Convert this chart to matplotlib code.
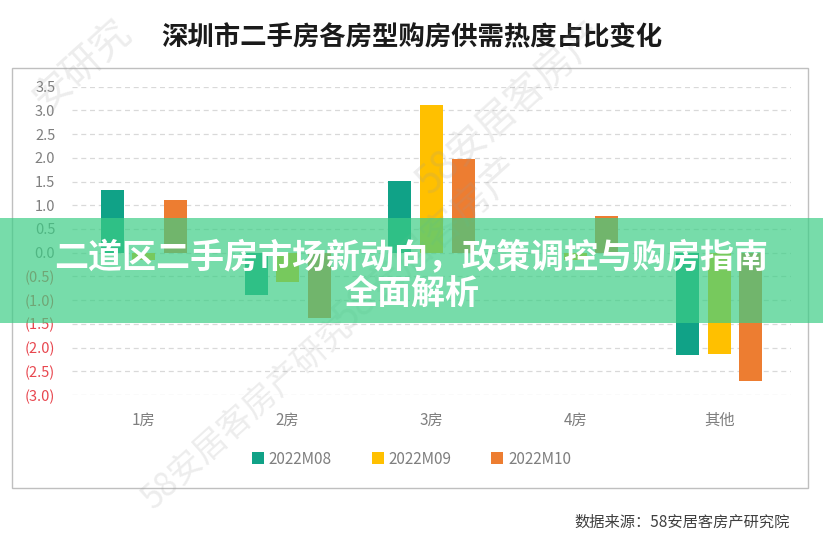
import numpy as np
import matplotlib.pyplot as plt
from matplotlib.patches import Rectangle, Patch
from matplotlib.ticker import FuncFormatter

plt.rcParams['font.family'] = ['Noto Sans CJK SC', 'DejaVu Sans']

# data
categories = ['1房', '2房', '3房', '4房', '其他']
series = ['2022M08', '2022M09', '2022M10']
m08 = [1.32, -0.89, 1.52, 0.0, -2.16]
m09 = [-0.15, -0.61, 3.11, -0.15, -2.14]
m10 = [1.12, -1.38, 1.97, 0.78, -2.70]
colors = ['#10a287', '#ffc000', '#ed7d31']
yticks = np.arange(-3.0, 3.51, 0.5)

fig = plt.figure(figsize=(8.23, 5.44), dpi=100)
fig.patch.set_facecolor('white')

# outer chart frame
fig.patches.append(Rectangle((12 / 823, 1 - 488 / 544), 796 / 823, 420 / 544,
                             transform=fig.transFigure, fill=False,
                             edgecolor='#bfbfbf', linewidth=1.0, zorder=0))

ax = fig.add_axes([72 / 823, 1 - 395 / 544, 719 / 823, 308.3 / 544])
x = np.arange(len(categories))
w = 0.16
off = 0.22
for i, vals in enumerate([m08, m09, m10]):
    ax.bar(x + (i - 1) * off, vals, width=w, color=colors[i], zorder=3)

ax.set_xlim(-0.5, len(categories) - 0.5)
ax.set_ylim(-3.0, 3.5)
ax.set_yticks(yticks)
ax.yaxis.set_major_formatter(FuncFormatter(
    lambda v, p: f'({abs(v):.1f})' if v < -1e-9 else f'{abs(v):.1f}'))
for lab, v in zip(ax.get_yticklabels(), yticks):
    lab.set_color('#e8474f' if v < -1e-9 else '#7f7f7f')
ax.set_xticks(x)
ax.set_xticklabels(categories)
ax.tick_params(axis='y', length=0, labelsize=10.5, pad=12)
ax.tick_params(axis='x', length=0, labelsize=11, labelcolor='#7f7f7f', pad=12)
ax.grid(axis='y', linestyle=(0, (4, 3)), color='#d9d9d9', linewidth=0.9, zorder=0)
for s in ax.spines.values():
    s.set_visible(False)

fig.text(0.5, 1 - 38 / 544, '深圳市二手房各房型购房供需热度占比变化',
         ha='center', va='center', fontsize=19, fontweight='bold', color='#1a1a1a')

handles = [Patch(facecolor=c, edgecolor='none') for c in colors]
fig.legend(handles, series, loc='center', bbox_to_anchor=(0.5, 1 - 459 / 544),
           ncol=3, frameon=False, fontsize=11, handlelength=0.8, handleheight=0.8,
           handletextpad=0.3, columnspacing=2.6, labelcolor='#7f7f7f')

fig.text(790 / 823, 1 - 522 / 544, '数据来源：58安居客房产研究院',
         ha='right', va='center', fontsize=11, color='#404040')

# faint watermarks
for (wx, wy, txt, fs) in [(0.10, 0.88, '安研究', 28), (0.62, 0.80, '58安居客房产', 28),
                          (0.30, 0.24, '58安居客房产研究', 24), (0.52, 0.55, '58安居客房产', 28)]:
    fig.text(wx, wy, txt, rotation=42, fontsize=fs, color='#9a9a9a', alpha=0.18,
             ha='center', va='center', zorder=5)

# overlay banner
fig.patches.append(Rectangle((0, 1 - 323 / 544), 1, 105 / 544, transform=fig.transFigure,
                             facecolor='#3dce86', alpha=0.7, edgecolor='none', zorder=10))
fig.text(0.5, 1 - 258 / 544, '二道区二手房市场新动向，政策调控与购房指南',
         ha='center', va='center', fontsize=24.5, fontweight='heavy', color='white', zorder=11)
fig.text(0.5, 1 - 293 / 544, '全面解析',
         ha='center', va='center', fontsize=24.5, fontweight='heavy', color='white', zorder=11)

plt.savefig('out.png', dpi=100)
